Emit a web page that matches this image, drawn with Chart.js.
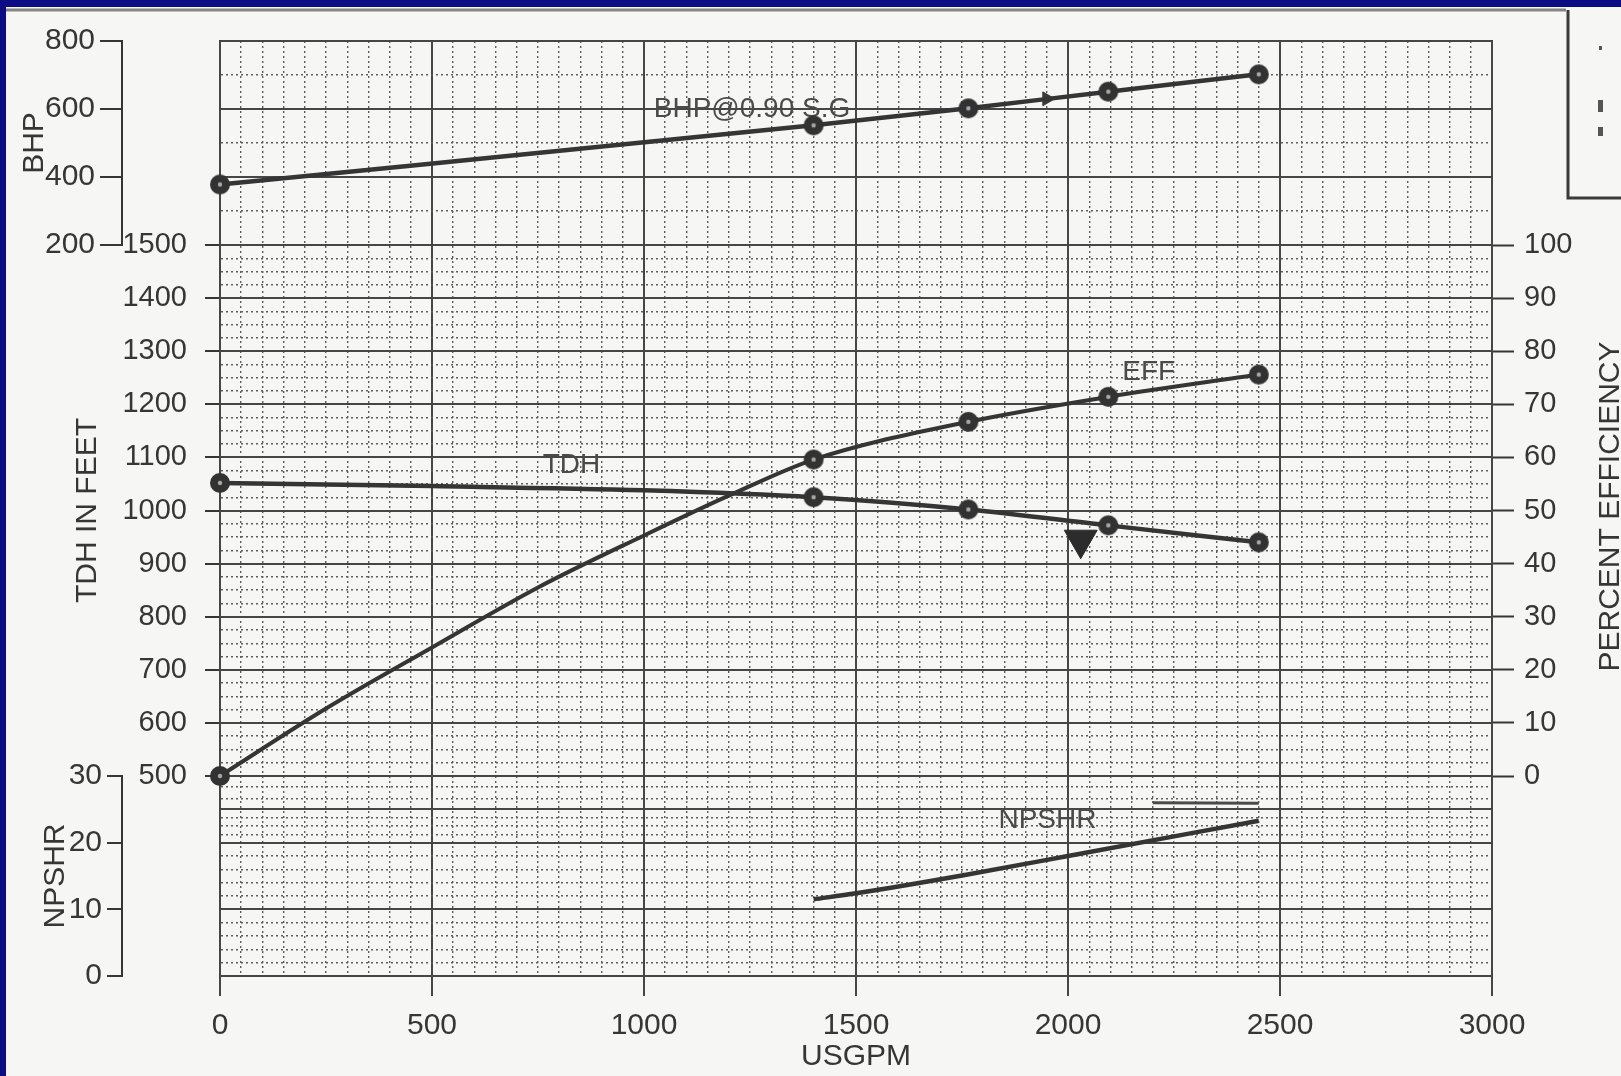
<!DOCTYPE html>
<html>
<head>
<meta charset="utf-8">
<title>Pump performance curve</title>
<script src="https://cdn.jsdelivr.net/npm/chart.js@4.4.1/dist/chart.umd.min.js"></script>
<style>
  html, body { margin: 0; padding: 0; background: #0c0c84; overflow: hidden; }
  canvas { display: block; }
</style>
</head>
<body>
<canvas id="pumpCurve" width="1621" height="1076"></canvas>
<script>
// ---- Test points (flow in USGPM) ----
const testFlows   = [0, 1400, 1765, 2095, 2450];

const bhpFlow     = [0, 1400, 1765, 2095, 2450];
const bhpValues   = [378, 552, 602, 651, 702];

const tdhFlow     = [0, 500, 1000, 1400, 1765, 2095, 2450];
const tdhValues   = [1052, 1046, 1038, 1025, 1002, 972, 940];

const effFlow     = [0, 250, 500, 750, 1000, 1200, 1400, 1765, 2095, 2450];
const effValues   = [0, 12.7, 24.2, 35.5, 45.3, 52.8, 59.6, 66.7, 71.4, 75.6];

const npshrFlow   = [1400, 1500, 1760, 2000, 2450];
const npshrValues = [11.5, 12.4, 15.2, 18.0, 23.3];

const npshaMarkFlow   = [2200, 2450];
const npshaMarkValues = [26.0, 25.9];

const ratedFlow   = [2030];
const ratedHead   = [945];

const bhpArrowFlow  = [1950];
const bhpArrowValue = [630];

// ---- Axis tick lists ----
const bhpLabelTicks    = [200, 400, 600, 800];
const npshrGridTicks   = [0, 2, 4, 6, 8, 10, 12, 14, 16, 18, 20, 21.25, 22.5, 23.75, 25, 26.67, 28.33, 30];
const npshrMajorTicks  = [0, 10, 20, 25, 30];
const npshrLabelTicks  = [0, 10, 20, 30];

// ---- Styling ----
const INK   = '#363636';
const LINE  = '#353535';
const MAJOR = '#464646';
const MINOR = '#5e5e5e';
const DOTS  = [2, 3];
const FONT  = "'Liberation Sans', Arial, Helvetica, sans-serif";

Chart.defaults.font.family = FONT;
Chart.defaults.color = INK;

const pointsOf = (xs, ys) => xs.map((x, i) => ({ x, y: ys[i] }));

// filled test-point marker with a pale centre dot
const testMarker = (() => {
  const r = 10;
  const c = document.createElement('canvas');
  c.width = c.height = 2 * r + 2;
  const g = c.getContext('2d');
  g.fillStyle = '#323232';
  g.beginPath(); g.arc(r + 1, r + 1, r, 0, Math.PI * 2); g.fill();
  g.fillStyle = '#a8a8a8';
  g.beginPath(); g.arc(r + 1, r + 1, 2.2, 0, Math.PI * 2); g.fill();
  return c;
})();
const markedRadius = ctx => (ctx.raw && testFlows.includes(ctx.raw.x)) ? 10 : 0;

// grid helpers: solid major lines, dotted minor lines
function gridFor(isMajor, hasTick, tickLength) {
  return {
    color: c => (!c.tick || isMajor(c.tick.value)) ? MAJOR : MINOR,
    lineWidth: c => (!c.tick || isMajor(c.tick.value)) ? 2 : 1.4,
    tickLength: tickLength,
    tickColor: c => (c.tick && hasTick(c.tick.value)) ? INK : 'rgba(0,0,0,0)',
    tickWidth: 2
  };
}
function borderFor(isMajor, show, color) {
  return {
    display: show,
    color: color,
    width: 2,
    dash: c => (c.tick && !isMajor(c.tick.value)) ? DOTS : []
  };
}
const spacer = (position, stack, stackWeight, weight, width, showBorder) => ({
  type: 'linear', position, stack, stackWeight, weight, min: 0, max: 1,
  ticks: { display: false },
  grid: { display: false },
  border: { display: showBorder, color: MAJOR, width: 2 },
  afterFit: s => { s.width = width; }
});

// text placed beside each curve
const curveLabels = [
  { text: 'BHP@0.90 S.G', axis: 'yBHP',   flow: 1023, value: 600 },
  { text: 'TDH',          axis: 'yTDH',   flow: 761,  value: 1086 },
  { text: 'EFF',          axis: 'yEff',   flow: 2128, value: 76.1 },
  { text: 'NPSHR',        axis: 'yNPSHR', flow: 1836, value: 23.4 }
];

const paperPlugin = {
  id: 'paper',
  beforeDraw(chart) {
    const { ctx, width, height } = chart;
    ctx.save();
    ctx.fillStyle = '#0c0c84';
    ctx.fillRect(0, 0, width, height);
    ctx.fillStyle = '#f6f6f4';
    ctx.fillRect(6, 7, width - 6, height - 7);
    ctx.strokeStyle = 'rgba(95,95,95,0.75)';
    ctx.lineWidth = 3;
    ctx.beginPath(); ctx.moveTo(6, 10); ctx.lineTo(1566, 10); ctx.stroke();
    ctx.restore();
  }
};

const curveLabelPlugin = {
  id: 'curveLabels',
  beforeDatasetsDraw(chart) {
    const { ctx, scales } = chart;
    ctx.save();
    ctx.font = '28px ' + FONT;
    ctx.fillStyle = '#4a4a4a';
    ctx.textAlign = 'left';
    ctx.textBaseline = 'middle';
    curveLabels.forEach(l => {
      ctx.fillText(l.text, scales.x.getPixelForValue(l.flow), scales[l.axis].getPixelForValue(l.value));
    });
    ctx.restore();
  }
};

const sideTextPlugin = {
  id: 'sideText',
  afterDraw(chart) {
    const { ctx, scales, width } = chart;
    const eff = scales.yEff;
    ctx.save();
    // efficiency axis title, reading upwards
    ctx.translate(width - 10, (eff.top + eff.bottom) / 2 - 4);
    ctx.rotate(-Math.PI / 2);
    ctx.font = '30px ' + FONT;
    ctx.fillStyle = INK;
    ctx.textAlign = 'center';
    ctx.textBaseline = 'middle';
    ctx.fillText('PERCENT EFFICIENCY', 0, 0);
    ctx.restore();

    // neighbouring box at the top right
    ctx.save();
    ctx.strokeStyle = '#3a3a3a';
    ctx.lineWidth = 3;
    ctx.beginPath();
    ctx.moveTo(1568, 10); ctx.lineTo(1568, 198); ctx.lineTo(1625, 198);
    ctx.stroke();
    ctx.fillStyle = '#555';
    ctx.fillRect(1599, 46, 3, 4);
    ctx.fillRect(1598, 100, 5, 12);
    ctx.fillRect(1598, 127, 5, 9);
    ctx.restore();
  }
};

new Chart(document.getElementById('pumpCurve'), {
  type: 'line',
  data: {
    datasets: [
      {
        label: 'BHP@0.90 S.G', yAxisID: 'yBHP', xAxisID: 'x',
        data: pointsOf(bhpFlow, bhpValues),
        borderColor: LINE, borderWidth: 4.5, cubicInterpolationMode: 'monotone',
        pointStyle: testMarker, pointRadius: markedRadius, clip: false
      },
      {
        label: 'TDH', yAxisID: 'yTDH', xAxisID: 'x',
        data: pointsOf(tdhFlow, tdhValues),
        borderColor: LINE, borderWidth: 4.5, cubicInterpolationMode: 'monotone',
        pointStyle: testMarker, pointRadius: markedRadius, clip: false
      },
      {
        label: 'EFF', yAxisID: 'yEff', xAxisID: 'x',
        data: pointsOf(effFlow, effValues),
        borderColor: LINE, borderWidth: 4, cubicInterpolationMode: 'monotone',
        pointStyle: testMarker, pointRadius: markedRadius, clip: false
      },
      {
        label: 'NPSHR', yAxisID: 'yNPSHR', xAxisID: 'x',
        data: pointsOf(npshrFlow, npshrValues),
        borderColor: LINE, borderWidth: 4.5, cubicInterpolationMode: 'monotone',
        pointRadius: 0, clip: false
      },
      {
        label: 'NPSHA mark', yAxisID: 'yNPSHR', xAxisID: 'x',
        data: pointsOf(npshaMarkFlow, npshaMarkValues),
        borderColor: '#4a4a4a', borderWidth: 3, pointRadius: 0, clip: false
      },
      {
        label: 'Rated point', yAxisID: 'yTDH', xAxisID: 'x',
        data: pointsOf(ratedFlow, ratedHead),
        showLine: false, pointStyle: 'triangle', rotation: 180, pointRadius: 19,
        backgroundColor: '#2c2c2c', borderColor: '#2c2c2c', borderWidth: 1, clip: false
      },
      {
        label: 'BHP rated', yAxisID: 'yBHP', xAxisID: 'x',
        data: pointsOf(bhpArrowFlow, bhpArrowValue),
        showLine: false, pointStyle: 'triangle', rotation: 90, pointRadius: 8,
        backgroundColor: '#3a3a3a', borderColor: '#3a3a3a', borderWidth: 1, clip: false
      }
    ]
  },
  options: {
    responsive: false,
    animation: false,
    events: [],
    layout: { padding: { top: 41, left: 0, right: 0, bottom: 0 } },
    plugins: { legend: { display: false }, tooltip: { enabled: false } },
    scales: {
      x: {
        type: 'linear', position: 'bottom', weight: 1, min: 0, max: 3000,
        ticks: { stepSize: 500, padding: 12, font: { size: 30 }, color: INK, maxRotation: 0, autoSkip: false,
                 callback: v => String(v) },
        grid: { color: MAJOR, lineWidth: 2, tickLength: 20, tickColor: MAJOR, tickWidth: 2 },
        border: { display: true, color: MAJOR, width: 2 },
        title: { display: true, text: 'USGPM', font: { size: 30 }, color: INK, padding: { top: 0, bottom: 1 } },
        afterFit: s => { s.height = 100; }
      },
      xMinor: {
        type: 'linear', position: 'bottom', weight: 0, min: 0, max: 3000,
        ticks: { display: false, stepSize: 50 },
        grid: { color: c => (c.tick && c.tick.value % 500 !== 0) ? MINOR : 'rgba(0,0,0,0)', lineWidth: 1.4, drawTicks: false },
        border: { display: false, dash: DOTS },
        afterFit: s => { s.height = 0; }
      },

      // outer left column: BHP (top) and NPSHR (bottom)
      yBHP: {
        type: 'linear', position: 'left', stack: 'outer', stackWeight: 204, weight: 6, min: 200, max: 800,
        ticks: { stepSize: 100, padding: 5, font: { size: 30 }, color: INK, autoSkip: false,
                 callback: v => bhpLabelTicks.includes(v) ? String(v) : '' },
        grid: gridFor(v => v % 200 === 0, v => bhpLabelTicks.includes(v), 22),
        border: borderFor(v => v % 200 === 0, true, INK),
        title: { display: true, text: 'BHP', font: { size: 30 }, color: INK, padding: { top: 17, bottom: 0 } },
        afterFit: s => { s.width = 122; }
      },
      yGapL: spacer('left', 'outer', 531, 5, 122, false),
      yNPSHR: {
        type: 'linear', position: 'left', stack: 'outer', stackWeight: 200, weight: 4, min: 0, max: 30,
        afterBuildTicks: s => { s.ticks = npshrGridTicks.map(v => ({ value: v })); },
        ticks: { padding: 5, font: { size: 30 }, color: INK, autoSkip: false,
                 callback: v => npshrLabelTicks.includes(v) ? String(v) : '' },
        grid: gridFor(v => npshrMajorTicks.includes(v), v => npshrLabelTicks.includes(v), 15),
        border: borderFor(v => npshrMajorTicks.includes(v), true, INK),
        title: { display: true, text: 'NPSHR', font: { size: 30 }, color: INK, padding: { top: 38, bottom: 0 } },
        afterFit: s => { s.width = 122; }
      },

      // inner left column: plot edge and TDH
      yEdgeTopL: spacer('left', 'inner', 204, 3, 98, true),
      yTDH: {
        type: 'linear', position: 'left', stack: 'inner', stackWeight: 531, weight: 2, min: 500, max: 1500,
        ticks: { stepSize: 25, padding: 18, font: { size: 29 }, color: INK, autoSkip: false,
                 callback: v => v % 100 === 0 ? String(v) : '' },
        grid: gridFor(v => v % 100 === 0, v => v % 100 === 0, 15),
        border: borderFor(v => v % 100 === 0, true, MAJOR),
        title: { display: true, text: 'TDH IN FEET', font: { size: 30 }, color: INK, padding: { top: -52, bottom: 0 } },
        afterFit: s => { s.width = 98; }
      },
      yEdgeBotL: spacer('left', 'inner', 200, 1, 98, true),

      // right column: plot edge and efficiency
      yEdgeTopR: spacer('right', 'right', 204, 1, 129, true),
      yEff: {
        type: 'linear', position: 'right', stack: 'right', stackWeight: 531, weight: 2, min: 0, max: 100,
        ticks: { stepSize: 10, padding: 10, font: { size: 29 }, color: INK, autoSkip: false,
                 callback: v => String(v) },
        grid: { drawOnChartArea: false, tickLength: 22, tickColor: INK, tickWidth: 2, color: MAJOR },
        border: { display: true, color: MAJOR, width: 2 },
        afterFit: s => { s.width = 129; }
      },
      yEdgeBotR: spacer('right', 'right', 200, 3, 129, true)
    }
  },
  plugins: [paperPlugin, curveLabelPlugin, sideTextPlugin]
});
</script>
</body>
</html>
